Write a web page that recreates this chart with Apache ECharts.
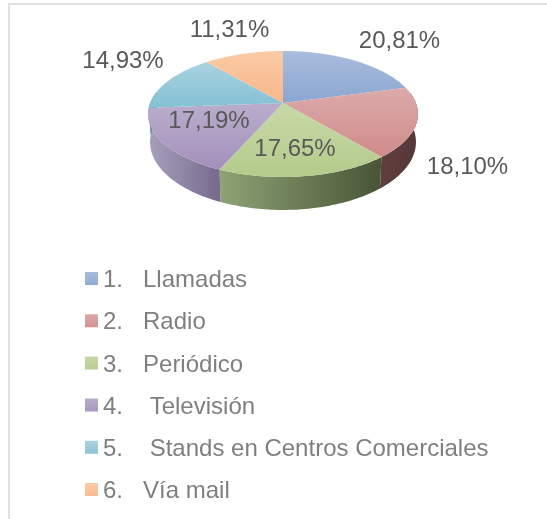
<!DOCTYPE html>
<html><head><meta charset="utf-8">
<style>html,body{margin:0;padding:0;background:#fff}#c{width:547px;height:519px}</style>
<script src="https://cdn.jsdelivr.net/npm/echarts@6/dist/echarts.min.js"></script>
</head><body><div id="c"></div>
<script>
const categories = ['1.   Llamadas','2.   Radio','3.   Periódico','4.    Televisión','5.    Stands en Centros Comerciales','6.   Vía mail'];
const values = [20.81,18.10,17.65,17.19,14.93,11.31];
const labels = ['20,81%','18,10%','17,65%','17,19%','14,93%','11,31%'];
const topColors = [['#a9bddc','#8aa6d1'],['#dcaaaa','#d08a8a'],['#c8d9a8','#b4cb8b'],['#b9adcc','#a490bb'],['#aad2e0','#83c1d4'],['#fbcba6','#f9b68a']];
const sideColors = [['#6f86a8','#4f6484'],['#5f3e3e','#553636'],['#8fa375','#485536'],['#a8a1bb','#75698c'],['#6f9cab','#4f7a88'],['#c49470','#a07050']];
const labelPos = [[399.5,41],[467.5,167],[295,149],[209,121],[123,61],[229.5,30]];

const cx=283, cy=103, A=61.08, B=132.9, K=0.1746, D=27.2, BS=0.985;
const total = values.reduce((a,b)=>a+b,0);
function proj(t, bottom){
  const u=Math.sin(t), v=-Math.cos(t), w=1-K*v;
  if(bottom) return [cx+B*BS*u/w, cy+(A*v+D)/w];
  return [cx+B*u/w, cy+A*v/w];
}
function range(i){
  let s=0; for(let j=0;j<i;j++) s+=values[j];
  return [s/total*2*Math.PI,(s+values[i])/total*2*Math.PI];
}
function arc(a,b,bottom){
  const n=Math.max(2,Math.ceil((b-a)/0.02)), p=[];
  for(let i=0;i<=n;i++) p.push(proj(a+(b-a)*i/n,bottom));
  return p;
}
function grad(c,h){return new echarts.graphic.LinearGradient(h?1:0,0,0,h?0:1,[{offset:0,color:c[h?1:0]},{offset:1,color:c[h?0:1]}]);}
const T0=Math.PI/2-Math.asin(K), T1=2*Math.PI-T0; // visible side range

const series=[];
series.push({type:'custom',name:'side',coordinateSystem:'none',silent:true,z:1,
  data:values.map((v,i)=>i),
  renderItem(p,api){
    const i=api.value(0); const [a,b]=range(i);
    const s=Math.max(a,T0), e=Math.min(b,T1);
    if(e<=s) return {type:'group',children:[]};
    const pts=arc(s,e,false).concat(arc(s,e,true).reverse());
    return {type:'polygon',shape:{points:pts},style:{fill:grad(sideColors[i],true)}};
  }});
categories.forEach((name,i)=>{
  series.push({type:'custom',name,coordinateSystem:'none',silent:true,z:2,
    itemStyle:{color:grad(topColors[i],false)},
    data:[values[i]],
    renderItem(){
      const [a,b]=range(i);
      const pts=[[cx,cy]].concat(arc(a,b,false));
      return {type:'group',children:[
        {type:'polygon',shape:{points:pts},style:{fill:grad(topColors[i],false)}},
        {type:'text',z2:100,style:{text:labels[i],x:labelPos[i][0],y:labelPos[i][1],align:'center',verticalAlign:'middle',
          fill:'#595959',font:'24px "Liberation Sans"'}}
      ]};
    }});
});
const chart=echarts.init(document.getElementById('c'),null,{renderer:'canvas'});
chart.setOption({
  animation:false,
  backgroundColor:'#ffffff',
  legend:{orient:'vertical',left:85,top:267.5,padding:0,itemWidth:13,itemHeight:17,itemGap:16.2,icon:'path://M0 0H13V13H0Z M0 17H0.001V17Z',selectedMode:false,
    data:categories,
    textStyle:{color:'#7f7f7f',fontFamily:'Liberation Sans',fontSize:24,lineHeight:26}},
  graphic:[
    {type:'rect',silent:true,shape:{x:8,y:3,width:539,height:2},style:{fill:'#e0e0e0'}},
    {type:'rect',silent:true,shape:{x:8,y:3,width:2,height:516},style:{fill:'#e0e0e0'}}
  ],
  series
});
</script></body></html>
